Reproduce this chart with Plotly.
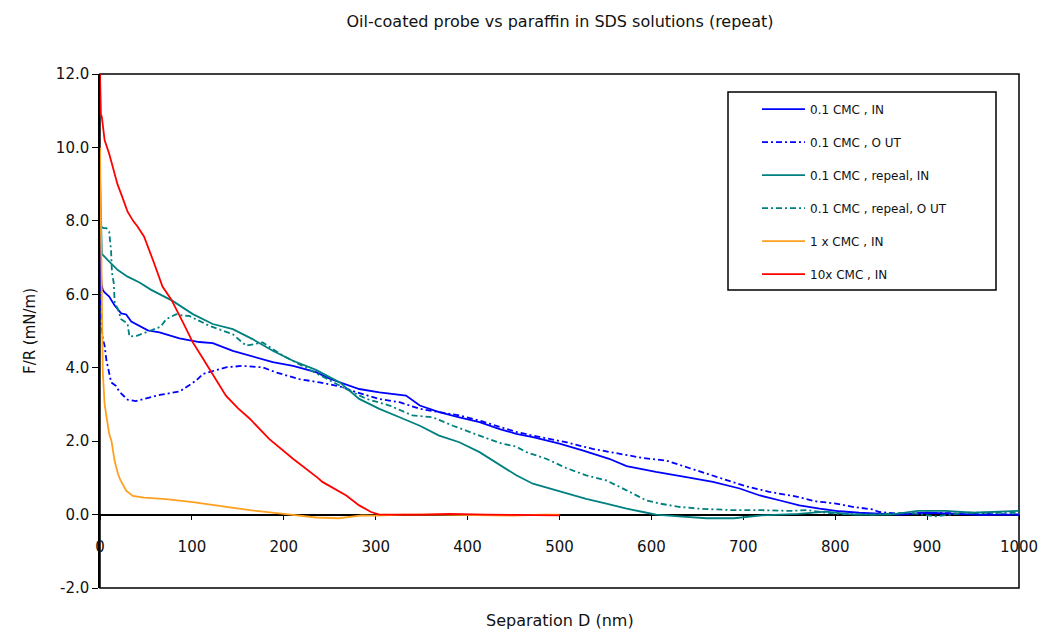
import plotly.graph_objects as go

# ---------------- data ----------------
names = ["0.1 CMC , IN", "0.1 CMC , O UT", "0.1 CMC , repeal, IN",
         "0.1 CMC , repeal, O UT", "1 x CMC , IN", "10x CMC , IN"]

blue_in_x = [0, 0.5, 1, 1.5, 3, 5, 10, 15.8, 23, 28.5, 34, 43, 52, 64.7, 86.5, 108, 122.7, 144.5,
             163, 188, 210, 217, 235, 250, 282, 304, 333, 348, 369, 391, 413, 435, 453, 471, 500,
             525, 554, 573, 605, 638, 667, 696, 718, 739, 761, 783, 805, 826, 848, 870, 900, 930,
             960, 1000]
blue_in_y = [7.65, 7.3, 6.9, 6.3, 6.12, 6.05, 5.94, 5.7, 5.48, 5.45, 5.26, 5.14, 5.02, 4.96, 4.8,
             4.7, 4.67, 4.46, 4.33, 4.15, 4.05, 4.0, 3.88, 3.7, 3.42, 3.33, 3.24, 2.97, 2.79, 2.65,
             2.52, 2.33, 2.2, 2.11, 1.93, 1.75, 1.52, 1.32, 1.16, 1.02, 0.89, 0.71, 0.52, 0.39,
             0.25, 0.16, 0.09, 0.05, 0.03, 0.0, 0.05, 0.02, -0.01, 0.0]

blue_out_x = [0, 0.5, 1.5, 3, 5, 7, 10, 12.2, 17.6, 21, 30, 39, 48, 65, 86.5, 95.5, 104.6, 112,
              122.7, 137, 155, 177, 192, 217, 239, 261, 279, 304, 326, 348, 369, 391, 413, 435,
              453, 471, 507, 536, 562, 591, 616, 638, 667, 685, 703, 728, 754, 779, 801, 819, 841,
              848, 870, 900, 950, 1000]
blue_out_y = [7.0, 6.0, 5.2, 4.8, 4.6, 4.2, 3.88, 3.6, 3.5, 3.35, 3.13, 3.09, 3.15, 3.26, 3.35,
              3.5, 3.65, 3.83, 3.9, 4.01, 4.05, 4.01, 3.87, 3.69, 3.6, 3.49, 3.33, 3.15, 3.06,
              2.88, 2.79, 2.7, 2.56, 2.4, 2.25, 2.15, 1.97, 1.79, 1.68, 1.54, 1.47, 1.29, 1.05,
              0.9, 0.77, 0.62, 0.51, 0.36, 0.3, 0.21, 0.14, 0.07, 0.02, 0.05, 0.03, 0.0]

teal_in_x = [0, 0.5, 1, 1.5, 2, 8.5, 19.4, 30, 43, 55.7, 64.7, 79, 101, 122.7, 144.5, 166, 188,
             210, 235, 261, 282, 304, 326, 348, 369, 391, 413, 435, 453, 471, 489, 507, 529, 551,
             573, 591, 605, 630, 660, 690, 720, 760, 790, 820, 860, 890, 920, 950, 980, 1000]
teal_in_y = [9.2, 8.6, 8.2, 7.6, 7.1, 6.93, 6.66, 6.48, 6.32, 6.12, 6.0, 5.82, 5.46, 5.19, 5.05,
             4.78, 4.46, 4.19, 3.94, 3.6, 3.15, 2.88, 2.65, 2.42, 2.15, 1.97, 1.7, 1.36, 1.07,
             0.84, 0.71, 0.57, 0.43, 0.3, 0.16, 0.07, 0.0, -0.05, -0.1, -0.1, -0.02, 0.02, 0.08,
             0.0, 0.0, 0.1, 0.1, 0.05, 0.08, 0.1]

teal_out_x = [0, 1, 4, 7, 10, 12, 13, 15, 16, 19.4, 23, 30, 32, 40, 54, 66, 72, 83, 90, 97, 119,
              144.5, 159, 177, 199, 221, 239, 268, 290, 315, 340, 362, 384, 413, 435, 453, 464,
              485.5, 507, 529, 551, 573, 594, 609, 630, 652, 689, 720, 750, 770, 800, 840, 880,
              910, 940, 1000]
teal_out_y = [8.2, 7.85, 7.8, 7.8, 7.7, 7.2, 6.6, 6.3, 5.76, 5.6, 5.32, 5.2, 4.85, 4.87, 5.0,
              5.12, 5.32, 5.46, 5.42, 5.41, 5.14, 4.91, 4.6, 4.69, 4.33, 4.05, 3.8, 3.42, 3.15,
              2.97, 2.7, 2.65, 2.42, 2.15, 1.95, 1.85, 1.7, 1.52, 1.27, 1.07, 0.93, 0.66, 0.39,
              0.3, 0.21, 0.16, 0.12, 0.12, 0.1, 0.12, 0.02, 0.0, 0.05, -0.05, 0.05, 0.05]

orange_x = [0, 0.5, 1, 1.5, 2, 3, 5, 7, 10, 12.5, 16, 19.5, 22, 28.5, 35.7, 48, 72, 101, 130, 163,
            195, 217, 235, 260, 285, 300, 330, 370, 420, 450, 480, 500]
orange_y = [10.0, 9.0, 7.8, 6.2, 5.0, 3.9, 3.0, 2.7, 2.2, 2.0, 1.45, 1.12, 0.95, 0.65, 0.51,
            0.46, 0.42, 0.34, 0.23, 0.12, 0.03, -0.02, -0.08, -0.1, -0.02, -0.03, 0.0, 0.0,
            -0.02, -0.03, 0.0, 0.0]

red_x = [0, 0.3, 1, 2, 5, 10, 19, 25, 30, 36, 41, 48, 54, 59, 68, 77.5, 90, 101, 112, 123, 137,
         150, 163, 184, 210, 237, 242, 268, 282, 295, 304, 350, 380, 420, 470, 485, 500]
red_y = [12.0, 11.5, 10.9, 10.83, 10.2, 9.83, 9.0, 8.6, 8.25, 8.0, 7.84, 7.57, 7.2, 6.84, 6.21,
         5.86, 5.25, 4.69, 4.25, 3.8, 3.24, 2.9, 2.61, 2.06, 1.52, 1.0, 0.89, 0.52, 0.25, 0.07,
         0.0, 0.0, 0.02, 0.0, -0.01, 0.0, -0.02]

y_tick_vals = [-2, 0, 2, 4, 6, 8, 10, 12]
y_tick_text = ["-2.0", "0.0", "2.0", "4.0", "6.0", "8.0", "10.0", "12.0"]
x_tick_vals = [0, 100, 200, 300, 400, 500, 600, 700, 800, 900, 1000]

series = [
    (blue_in_x, blue_in_y, "#0000FF", "solid"),
    (blue_out_x, blue_out_y, "#0000FF", "6px,3px,2px,3px"),
    (teal_in_x, teal_in_y, "#008080", "solid"),
    (teal_out_x, teal_out_y, "#008080", "6px,3px,2px,3px"),
    (orange_x, orange_y, "#FFA020", "solid"),
    (red_x, red_y, "#FF0000", "solid"),
]

# ---------------- figure ----------------
fig = go.Figure()
for i, (xs, ys, col, dash) in enumerate(series):
    fig.add_trace(go.Scatter(x=xs, y=ys, mode="lines", name=names[i],
                             legendgroup=f"g{i}",
                             line=dict(color=col, width=1.8, dash=dash)))

FONT = "DejaVu Sans"
TXT = "#111111"
fig.update_layout(
    width=1039, height=630,
    margin=dict(l=100, r=20, t=74, b=42),
    paper_bgcolor="white", plot_bgcolor="white",
    font=dict(family=FONT, size=14, color=TXT),
    title=dict(text="Oil-coated probe vs paraffin in SDS solutions (repeat)",
               x=0.539, xanchor="center", y=1 - 21 / 630, yanchor="middle",
               font=dict(family=FONT, size=16, color=TXT)),
    showlegend=True,
    legend=dict(x=0.7149, y=0.960, xanchor="left", yanchor="top",
                bgcolor="rgba(0,0,0,0)", borderwidth=0,
                font=dict(family=FONT, size=12, color=TXT),
                tracegroupgap=14, itemwidth=43),
    xaxis=dict(range=[0, 1000], tickvals=x_tick_vals, showgrid=False, zeroline=False,
               showline=True, linecolor="black", linewidth=1.5, automargin=False,
               ticks="outside", ticklen=5, tickwidth=1.2, tickcolor="black",
               anchor="free", position=2 / 14, ticklabelstandoff=14,
               layer="below traces", tickfont=dict(family=FONT, size=15, color=TXT)),
    yaxis=dict(range=[-2, 12], tickvals=y_tick_vals, ticktext=y_tick_text, showgrid=False,
               zeroline=False, showline=True, linecolor="black", linewidth=1.5, automargin=False,
               ticks="outside", ticklen=6, tickwidth=1.2, tickcolor="black",
               layer="below traces", tickfont=dict(family=FONT, size=15, color=TXT)),
    shapes=[
        dict(type="rect", xref="paper", yref="paper", x0=0, x1=1, y0=0, y1=1,
             line=dict(color="black", width=1.5), layer="below"),
        dict(type="rect", xref="paper", yref="paper",
             x0=(728 - 100) / 919, x1=(996 - 100) / 919,
             y0=(588 - 290) / 514, y1=(588 - 92) / 514,
             line=dict(color="black", width=1.5), layer="above"),
    ],
    annotations=[
        dict(text="Separation D (nm)", xref="paper", yref="paper", x=0.5,
             y=(588 - 620) / 514, xanchor="center", yanchor="middle", showarrow=False,
             font=dict(family=FONT, size=16, color=TXT)),
        dict(text="F/R (mN/m)", xref="paper", yref="paper", x=(30 - 100) / 919,
             y=0.5, xanchor="center", yanchor="middle", textangle=-90, showarrow=False,
             font=dict(family=FONT, size=15, color=TXT)),
    ],
)

fig.write_html("out.html")
